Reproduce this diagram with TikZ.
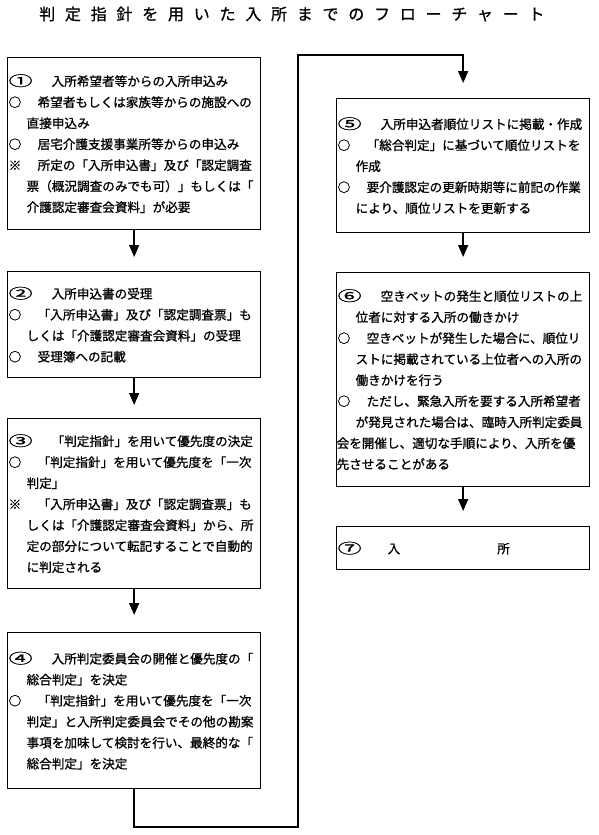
\documentclass[tikz,border=0pt]{standalone}
\usepackage{fontspec}
\usepackage{graphicx}
\setmainfont{Noto Sans CJK JP}[FakeBold=1.0]
\newfontfamily\titlefont{Noto Sans CJK JP}[LetterSpace=61,FakeBold=0.8]
\usetikzlibrary{calc,arrows.meta}

\newcommand{\lead}[1]{\makebox[29pt][l]{#1}}
\newcommand{\numlead}[1]{\makebox[43pt][l]{\scalebox{1.9}[1.1]{#1}}}
\newcommand{\hang}{\hspace*{18pt}}

\begin{document}
\begin{tikzpicture}[x=1pt, y=-1pt,
    box/.style={draw=black, line width=1.3pt, anchor=north west, align=left,
        text width=251pt, inner xsep=1pt, inner ysep=0pt,
        font=\fontsize{12.6}{21}\selectfont},
    flow/.style={line width=1.5pt, -{Triangle[width=10pt,length=12pt]}}]
    \useasboundingbox (0,0) rectangle (599,835);

    \node[anchor=west, inner sep=0pt, font=\titlefont\fontsize{16}{18}\selectfont] (title) at (39,14) {判定指針を用いた入所までのフローチャート};

    \node[box, minimum height=172pt] (b1) at (7,57) {\numlead{①}入所希望者等からの入所申込み\\
        \lead{○}希望者もしくは家族等からの施設への\\
        \hang 直接申込み\\
        \lead{○}居宅介護支援事業所等からの申込み\\
        \lead{※}所定の「入所申込書」及び「認定調査\\
        \hang 票（概況調査のみでも可）」もしくは「\\
        \hang 介護認定審査会資料」が必要};

    \node[box, minimum height=106pt] (b2) at (7,271) {\numlead{②}入所申込書の受理\\
        \lead{○}「入所申込書」及び「認定調査票」も\\
        \hang しくは「介護認定審査会資料」の受理\\
        \lead{○}受理簿への記載};

    \node[box, minimum height=170pt] (b3) at (7,418) {\numlead{③}「判定指針」を用いて優先度の決定\\
        \lead{○}「判定指針」を用いて優先度を「一次\\
        \hang 判定」\\
        \lead{※}「入所申込書」及び「認定調査票」も\\
        \hang しくは「介護認定審査会資料」から、所\\
        \hang 定の部分について転記することで自動的\\
        \hang に判定される};

    \node[box, minimum height=156pt] (b4) at (7,632) {\numlead{④}入所判定委員会の開催と優先度の「\\
        \hang 総合判定」を決定\\
        \lead{○}「判定指針」を用いて優先度を「一次\\
        \hang 判定」と入所判定委員会でその他の勘案\\
        \hang 事項を加味して検討を行い、最終的な「\\
        \hang 総合判定」を決定};

    \node[box, minimum height=134pt] (b5) at (336,98) {\numlead{⑤}入所申込者順位リストに掲載・作成\\
        \lead{○}「総合判定」に基づいて順位リストを\\
        \hang 作成\\
        \lead{○}要介護認定の更新時期等に前記の作業\\
        \hang により、順位リストを更新する};

    \node[box, minimum height=214pt] (b6) at (336,272) {\numlead{⑥}空きベットの発生と順位リストの上\\
        \hang 位者に対する入所の働きかけ\\
        \lead{○}空きベットが発生した場合に、順位リ\\
        \hang ストに掲載されている上位者への入所の\\
        \hang 働きかけを行う\\
        \lead{○}ただし、緊急入所を要する入所希望者\\
        \hang が発見された場合は、臨時入所判定委員\\
        \hspace*{-1pt}会を開催し、適切な手順により、入所を優\\
        \hspace*{-1pt}先させることがある};

    \node[box, minimum height=43pt] (b7) at (336,526) {\makebox[50pt][l]{\scalebox{1.9}[1.1]{⑦}}入\hspace{97pt}所};

    \coordinate (low) at (298,827);
    \coordinate (high) at (298,55);

    \draw[flow, shorten >=14pt] (b1.south) -- (b2.north);
    \draw[flow, shorten >=13pt] (b2.south) -- (b3.north);
    \draw[flow, shorten >=17pt] (b3.south) -- (b4.north);
    \draw[flow, shorten >=15pt] (b4.south) |- (low) -- (high) -| (b5.north);
    \draw[flow, shorten >=15pt] (b5.south) -- (b6.north);
    \draw[flow, shorten >=15pt] (b6.south) -- (b7.north);

\end{tikzpicture}
\end{document}
